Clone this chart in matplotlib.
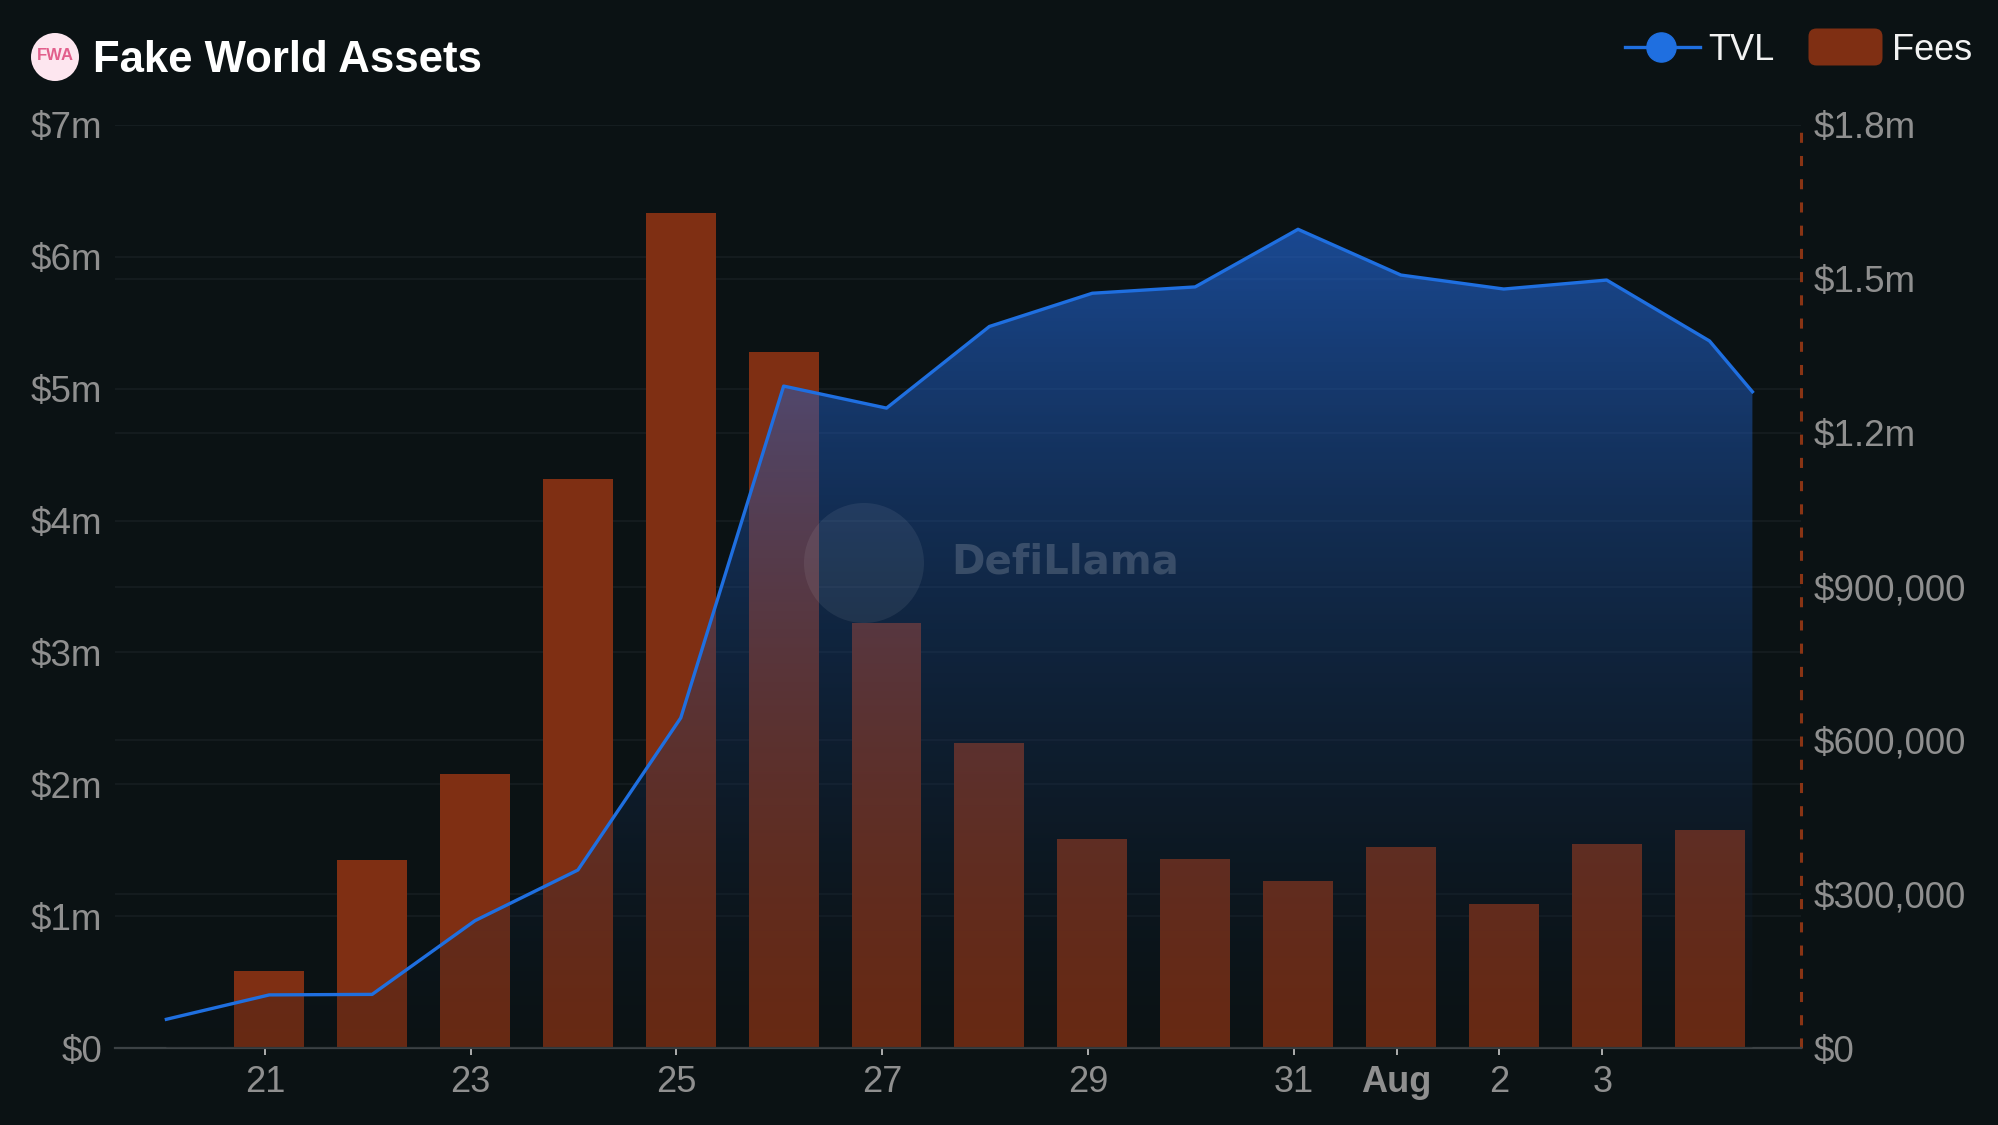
import matplotlib
matplotlib.use('Agg')
import matplotlib.pyplot as plt
import matplotlib.dates as mdates
import matplotlib.transforms as mtransforms
from matplotlib.patches import Circle, FancyBboxPatch
from matplotlib.lines import Line2D
import numpy as np
import pandas as pd

plt.rcParams['font.family'] = ['Liberation Sans', 'DejaVu Sans']

# TVL, in $m (left axis)
tvl_dates = list(pd.date_range('2024-07-20', '2024-08-04', freq='D')) + [pd.Timestamp('2024-08-04 10:00')]
tvl_values = [0.218, 0.403, 0.407, 0.966, 1.350, 2.504, 5.020, 4.853, 5.472,
              5.724, 5.772, 6.209, 5.862, 5.756, 5.824, 5.362, 4.977]

# daily fees, in $m (right axis)
fee_dates = pd.date_range('2024-07-21', '2024-08-04', freq='D')
fee_values = [0.151, 0.367, 0.535, 1.109, 1.629, 1.357, 0.828, 0.594,
              0.408, 0.368, 0.326, 0.393, 0.280, 0.397, 0.426]

tvl_ticks = [0, 1e6, 2e6, 3e6, 4e6, 5e6, 6e6, 7e6]
tvl_tick_labels = ['$0', '$1m', '$2m', '$3m', '$4m', '$5m', '$6m', '$7m']
fee_ticks = [0, 3e5, 6e5, 9e5, 1.2e6, 1.5e6, 1.8e6]
fee_tick_labels = ['$0', '$300,000', '$600,000', '$900,000', '$1.2m', '$1.5m', '$1.8m']
date_ticks = pd.to_datetime(['2024-07-21', '2024-07-23', '2024-07-25', '2024-07-27',
                             '2024-07-29', '2024-07-31', '2024-08-01', '2024-08-02', '2024-08-03'])
date_tick_labels = ['21', '23', '25', '27', '29', '31', 'Aug', '2', '3']

bg = '#0b1214'
tvl_color = '#1f6fe0'
fee_color = '#7f2f13'
label_color = '#8f8f8f'
grid_color = '#161e21'

x_tvl = mdates.date2num(tvl_dates)
y_tvl = np.array(tvl_values) * 1e6
x_fee = mdates.date2num(fee_dates)
y_fee = np.array(fee_values) * 1e6

fig = plt.figure(figsize=(19.99, 11.25), dpi=100, facecolor=bg)
ax = fig.add_axes([0.0575, 0.0684, 0.8435, 0.8205])   # fees (drawn below)
ax.set_facecolor(bg)
ax2 = ax.twinx()                                       # TVL (drawn on top)

# fees bars
ax.bar(x_fee, y_fee, width=0.68, color=fee_color, zorder=2)

x0 = mdates.date2num(pd.Timestamp('2024-07-20')) - 0.5
x1 = x0 + 16.39
ax.set_xlim(x0, x1)
ax.set_ylim(0, 1.8e6)
ax2.set_ylim(0, 7e6)

# grid lines of both axes, under the bars
ax.hlines(fee_ticks[1:], 0, 1, color=grid_color, lw=1.2, zorder=0.5,
          transform=mtransforms.blended_transform_factory(ax.transAxes, ax.transData))
ax.hlines(tvl_ticks[1:], 0, 1, color=grid_color, lw=1.2, zorder=0.5,
          transform=mtransforms.blended_transform_factory(ax.transAxes, ax2.transData))

# TVL area with vertical gradient
poly = ax2.fill_between(x_tvl, 0, y_tvl, color='none', lw=0)
n = 256
t = np.linspace(0, 1, n)[:, None]
c_bot = np.array([11, 18, 20]) / 255
c_top = np.array([38, 116, 245]) / 255
img = np.zeros((n, 1, 4))
img[..., :3] = c_bot + (c_top - c_bot) * t[..., None]
img[..., 3] = 0.2 + 0.36 * t
im = ax2.imshow(img, extent=[x_tvl[0], x_tvl[-1], 0, y_tvl.max()], origin='lower',
                aspect='auto', zorder=1, interpolation='bilinear')
im.set_clip_path(poly.get_paths()[0], transform=ax2.transData)
ax2.plot(x_tvl, y_tvl, color=tvl_color, lw=2.4, zorder=4, solid_joinstyle='round')
ax2.set_xlim(x0, x1)
ax2.set_ylim(0, 7e6)

# watermark
ax2.add_patch(Circle((8.64, 5.62), 0.6, transform=fig.dpi_scale_trans,
                     facecolor='white', alpha=0.07, lw=0, zorder=3))
ax2.text(10.65, 5.63, 'DefiLlama', transform=fig.dpi_scale_trans, fontsize=29,
         fontweight='bold', family='DejaVu Sans', color='white', alpha=0.17,
         ha='center', va='center', zorder=3)

# axes styling
ax.yaxis.tick_right()
ax2.yaxis.tick_left()
ax.set_yticks(fee_ticks, fee_tick_labels)
ax2.set_yticks(tvl_ticks, tvl_tick_labels)
ax.set_xticks(mdates.date2num(date_ticks - pd.Timedelta(hours=1)), date_tick_labels)
ax.get_xticklabels()[6].set_fontweight('bold')

for a in (ax, ax2):
    for s in a.spines.values():
        s.set_visible(False)
ax.spines['bottom'].set_visible(True)
ax.spines['bottom'].set_color('#3c4245')
ax.spines['bottom'].set_linewidth(1.6)
ax.spines['right'].set_visible(True)
ax.spines['right'].set_color('#8a3414')
ax.spines['right'].set_linewidth(2.2)
ax.spines['right'].set_linestyle((0, (3.3, 4.3)))
ax.spines['right'].set_capstyle('butt')

ax.tick_params(axis='x', length=5, width=1.2, color='#c8c8c8', labelcolor=label_color,
               labelsize=26, pad=7)
ax.tick_params(axis='y', length=0, labelcolor=label_color, labelsize=26.5, pad=9)
ax2.tick_params(axis='y', length=0, labelcolor=label_color, labelsize=26.5, pad=9)

# title and logo
fig.add_artist(Circle((0.55, 10.68), 0.24, transform=fig.dpi_scale_trans,
                      facecolor='#fde6ef', edgecolor='none'))
fig.text(0.55, 10.69, 'FWA', transform=fig.dpi_scale_trans, fontsize=12,
         fontweight='bold', fontstretch='condensed', color='#e25f8c',
         ha='center', va='center')
fig.text(0.93, 10.645, 'Fake World Assets', transform=fig.dpi_scale_trans,
         fontsize=31.5, fontweight='bold', color='white', ha='left', va='center')

# legend
ly = 10.78
fig.add_artist(Line2D([16.25, 17.0], [ly, ly], transform=fig.dpi_scale_trans,
                      color=tvl_color, lw=2.4))
fig.add_artist(Line2D([16.61], [ly], transform=fig.dpi_scale_trans, marker='o',
                      markersize=21, color=tvl_color, lw=0))
fig.text(17.08, ly - 0.04, 'TVL', transform=fig.dpi_scale_trans, fontsize=26,
         color='#f2f2f2', ha='left', va='center')
fig.add_artist(FancyBboxPatch((18.12, ly - 0.15), 0.67, 0.30,
                              boxstyle='round,pad=0.035,rounding_size=0.08',
                              transform=fig.dpi_scale_trans, facecolor=fee_color,
                              edgecolor='none'))
fig.text(18.92, ly - 0.04, 'Fees', transform=fig.dpi_scale_trans, fontsize=26,
         color='#f2f2f2', ha='left', va='center')

fig.savefig('out.png', dpi=100, facecolor=bg)
